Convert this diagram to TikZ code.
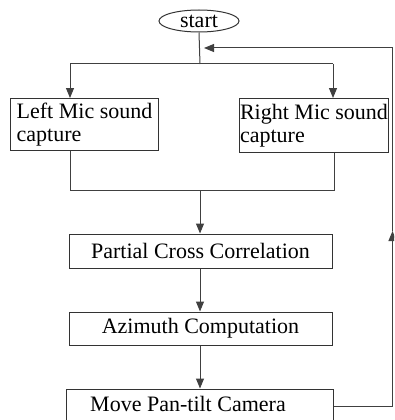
\documentclass[tikz,border=0pt]{standalone}
\usepackage{fontspec}
\setmainfont{Liberation Serif}
\usetikzlibrary{arrows.meta,shapes.geometric}

\begin{document}
\begin{tikzpicture}[x=1pt, y=-1pt, font=\fontsize{22}{23}\selectfont,
  box/.style={draw=black!80, line width=1pt, rectangle, inner sep=0pt},
  micbox/.style={box, anchor=north west, align=left, minimum height=52pt},
  wire/.style={draw=black!75, line width=1pt},
  arr/.style={wire, -{Triangle[width=8pt,length=10pt]}}]
  \clip (0,0) rectangle (394,420);
  \fill[white] (0,0) rectangle (394,420);
  % start and the two microphones
  \node[box, ellipse, minimum width=80pt, minimum height=22pt] (start) at (199,21) {start};
  \node[micbox, minimum width=148pt] (lmic) at (10,98) {Left Mic sound\\capture};
  \node[micbox, minimum width=149pt, minimum height=54pt] (rmic) at (239,98) {Right Mic sound\\capture};
  % processing chain
  \node[box, minimum width=263pt, minimum height=34pt] (pcc) at (200.5,251) {Partial Cross Correlation};
  \node[box, minimum width=263pt, minimum height=33pt] (az) at (200.5,328.5) {Azimuth Computation};
  \node[box, minimum width=267pt, minimum height=36pt] (move) at (199.5,407) {};
  \node (movetxt) at (188,404) {Move Pan-tilt Camera};
  \coordinate (split) at (200,64);
  \coordinate (splitl) at (70,64);
  \coordinate (splitr) at (333,64);
  \coordinate (joinl) at (70,190);
  \coordinate (joinr) at (334,190);
  \coordinate (join) at (200,190);
  \coordinate (merge) at (204,48);
  \coordinate (loopb) at (392.5,406);
  \coordinate (loopm) at (392.5,231);
  \coordinate (loopt) at (392.5,48);
  \draw[wire] (start.south) -- (split);
  \draw[wire] (splitl) -- (splitr);
  \draw[arr] (splitl) -- (splitl |- lmic.north);
  \draw[arr] (splitr) -- (splitr |- rmic.north);
  \draw[wire] (joinl |- lmic.south) -- (joinl) -- (joinr) -- (joinr |- rmic.south);
  \draw[arr] (join) -- (join |- pcc.north);
  \draw[arr] (pcc.south -| join) -- (az.north -| join);
  \draw[arr] (az.south -| join) -- (move.north -| join);
  % feedback loop
  \draw[arr] (move.east |- loopb) -- (loopb) -- (loopm);
  \draw[arr] (loopm) -- (loopt) -- (merge);
\end{tikzpicture}
\end{document}
